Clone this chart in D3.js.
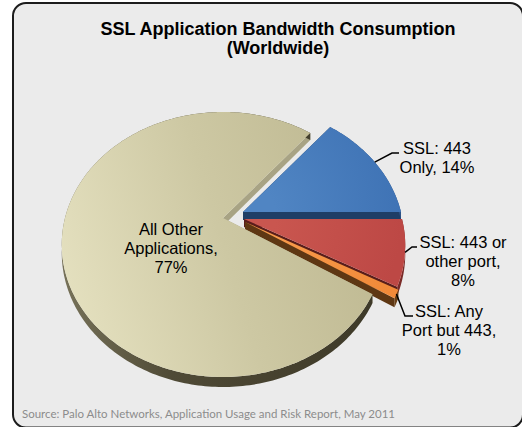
<!DOCTYPE html>
<html><head><meta charset="utf-8">
<script src="https://cdn.jsdelivr.net/npm/d3@7"></script>
<style>html,body{margin:0;padding:0;background:#fff;} svg{display:block}</style>
</head><body>
<script>
// ---------------- data ----------------
const categories = ["SSL: 443 Only", "SSL: 443 or other port", "SSL: Any Port but 443", "All Other Applications"];
const values = [14, 8, 1, 77];
const labelLines = [
  ["SSL: 443", "Only, 14%"],
  ["SSL: 443 or", "other port,", "8%"],
  ["SSL: Any", "Port but 443,", "1%"],
  ["All Other", "Applications,", "77%"]
];
const titleLines = ["SSL Application Bandwidth Consumption", "(Worldwide)"];
const sourceText = "Source: Palo Alto Networks, Application Usage and Risk Report, May 2011";

// ---------------- style / layout ----------------
const W = 522, H = 427;
const center = [243, 215];
const R = 158, tilt = 0.805, persp = 0.2, depth = 8;
const firstAngle = 39.6 * Math.PI / 180;
const explode = [[0, -3], [1, 4], [2, 7], [-20, 3]];
const topColors = [["#5085c3", "#3f73b5"], ["#c9564f", "#bd4845"], ["#f89a4b", "#f18a39"], null];
const cutColors = ["#1f3e66", "#5a1d1b", "#5e3713", "#a8a384"];
const rimColors = ["#2c5287", "#7a2a27", "#6a3f15", null];
const labelPos = [[437, 154], [463, 248], [449, 317], [171, 235]];
const leaderPts = [[[392, 153], [399, 153]], [[412, 247], [417, 247]], [[405, 316], [413, 316]], null];
const lineH = 19;

const svg = d3.select("body").append("svg").attr("width", W).attr("height", H);
const defs = svg.append("defs");

svg.append("rect").attr("x", 13).attr("y", 3).attr("width", 510).attr("height", 424.5)
  .attr("rx", 13).attr("fill", "#ebebeb").attr("stroke", "#1c1c1c").attr("stroke-width", 2);

// title
svg.append("g").selectAll("text").data(titleLines).join("text")
  .attr("x", 278).attr("y", (d, i) => 34.5 + i * 19.5)
  .attr("text-anchor", "middle").attr("font-family", "Liberation Sans, Arial, sans-serif")
  .attr("font-weight", "bold").attr("font-size", "18px").attr("fill", "#000").text(d => d);

// source
svg.append("text").attr("x", 22).attr("y", 418).attr("font-family", "Lato, sans-serif")
  .attr("font-size", "11.5px").attr("fill", "#8c8c8c")
  .attr("textLength", 373).attr("lengthAdjust", "spacingAndGlyphs").text(sourceText);

// ---------------- pie ----------------
const pie = d3.pie().sort(null).value(d => d).startAngle(firstAngle).endAngle(firstAngle + 2 * Math.PI);
const arcs = pie(values);

function proj(c, th, r, h) {
  const X = r * Math.sin(th), Z = r * Math.cos(th);
  const w = 1 + persp * Z / R;
  return [c[0] + X / w, c[1] - tilt * Z / w + h / w];
}
function arcPts(c, a0, a1, h) {
  const n = Math.max(2, Math.ceil(Math.abs(a1 - a0) / (Math.PI / 180)));
  const s = d3.scaleLinear().domain([0, n]).range([a0, a1]);
  return d3.range(n + 1).map(i => proj(c, s(i), R, h));
}
const line = d3.line().curve(d3.curveLinearClosed);

// beige gradients
const gTop = defs.append("linearGradient").attr("id", "beigeTop").attr("gradientUnits", "userSpaceOnUse")
  .attr("x1", 60).attr("y1", 300).attr("x2", 390).attr("y2", 200);
gTop.append("stop").attr("offset", 0).attr("stop-color", "#e5e1c0");
gTop.append("stop").attr("offset", 0.5).attr("stop-color", "#cdc8a3");
gTop.append("stop").attr("offset", 1).attr("stop-color", "#bdb790");
const gRim = defs.append("linearGradient").attr("id", "beigeRim").attr("gradientUnits", "userSpaceOnUse")
  .attr("x1", 60).attr("y1", 0).attr("x2", 380).attr("y2", 0);
gRim.append("stop").attr("offset", 0).attr("stop-color", "#777259");
gRim.append("stop").attr("offset", 0.35).attr("stop-color", "#4f4a36");
gRim.append("stop").attr("offset", 1).attr("stop-color", "#3d3928");

arcs.forEach((a, i) => {
  const c = [center[0] + explode[i][0], center[1] + explode[i][1]];
  if (topColors[i]) {
    const rg = defs.append("radialGradient").attr("id", "top" + i).attr("gradientUnits", "userSpaceOnUse")
      .attr("cx", c[0]).attr("cy", c[1]).attr("r", R);
    rg.append("stop").attr("offset", 0.2).attr("stop-color", topColors[i][0]);
    rg.append("stop").attr("offset", 1).attr("stop-color", topColors[i][1]);
  }
});

// draw order: blue, red, orange, beige
const g = svg.append("g");
arcs.forEach((a, i) => {
  const c = [center[0] + explode[i][0], center[1] + explode[i][1]];
  const sg = g.append("g");
  const apexT = proj(c, 0, 0, 0), apexB = proj(c, 0, 0, depth);
  // cut faces
  [a.startAngle, a.endAngle].forEach(th => {
    sg.append("path").attr("d", line([apexT, proj(c, th, R, 0), proj(c, th, R, depth), apexB]))
      .attr("fill", cutColors[i]);
  });
  // rim
  const topArc = arcPts(c, a.startAngle, a.endAngle, 0);
  const botArc = arcPts(c, a.startAngle, a.endAngle, depth).reverse();
  sg.append("path").attr("d", line(topArc.concat(botArc)))
    .attr("fill", rimColors[i] ? rimColors[i] : "url(#beigeRim)");
  // top
  sg.append("path").attr("d", line([apexT].concat(topArc)))
    .attr("fill", topColors[i] ? `url(#top${i})` : "url(#beigeTop)");
});

// leaders
arcs.forEach((a, i) => {
  if (!leaderPts[i]) return;
  const c = [center[0] + explode[i][0], center[1] + explode[i][1]];
  const mid = (a.startAngle + a.endAngle) / 2;
  const p0 = proj(c, mid, R, 0);
  svg.append("path").attr("d", d3.line()([p0].concat(leaderPts[i])))
    .attr("fill", "none").attr("stroke", "#000").attr("stroke-width", 1.5);
});

// labels
arcs.forEach((a, i) => {
  const t = svg.append("text").attr("text-anchor", "middle")
    .attr("font-family", "Liberation Sans, Arial, sans-serif").attr("font-size", "16.5px").attr("fill", "#000");
  labelLines[i].forEach((s, j) => {
    t.append("tspan").attr("x", labelPos[i][0]).attr("y", labelPos[i][1] + j * lineH).text(s);
  });
});
</script>
</body></html>
